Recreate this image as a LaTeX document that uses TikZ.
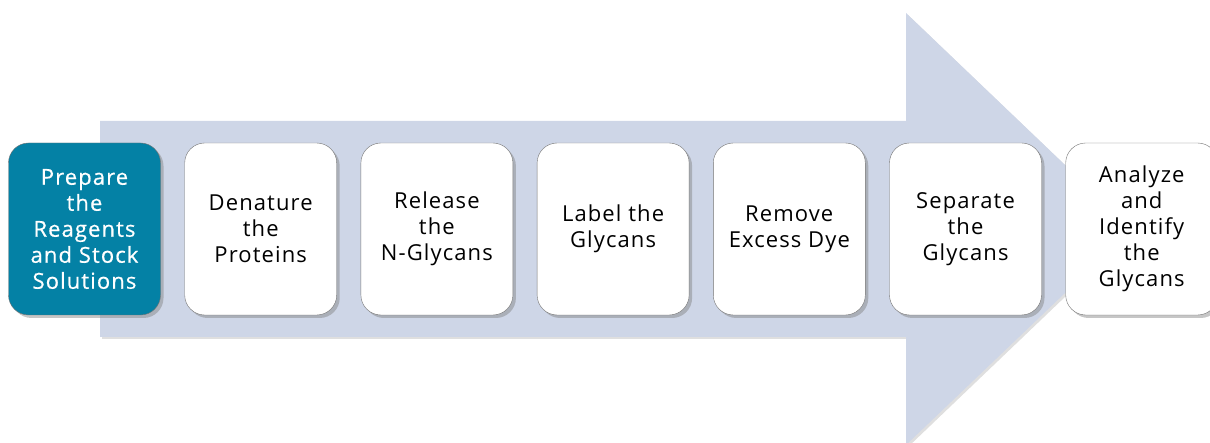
\documentclass[tikz,border=0pt]{standalone}
\usepackage{fontspec}
\setmainfont[LetterSpace=5]{Open Sans}
\newfontfamily\headfont[LetterSpace=5,FakeBold=0.6]{Open Sans}
\usepackage{tikz}
\usetikzlibrary{shapes, arrows.meta, positioning, shadows}
\definecolor{arrowfill}{HTML}{CED6E7}
\definecolor{stepteal}{HTML}{0481A5}
\tikzstyle{stepbox}=[draw=black!55,fill=white,rectangle,rounded corners=20pt,
  minimum width=152pt,minimum height=172pt,align=center,
  drop shadow={shadow xshift=3pt,shadow yshift=-3pt,opacity=.45}]
\tikzstyle{firstbox}=[stepbox,fill=stepteal,text=white,
  font=\headfont\fontsize{22}{26}\selectfont]
\tikzstyle{every node}=[font=\fontsize{22}{26}\selectfont]

\begin{document}
\begin{tikzpicture}[x=1pt,y=-1pt,node distance=176.2pt]
  \useasboundingbox (0,0) rectangle (1210,443);
  % big arrow behind the steps
  \fill[arrowfill,drop shadow={shadow xshift=2pt,shadow yshift=-2pt,opacity=.25}]
    (100,121) -- (906,121) -- (906,13) -- (1132,229) -- (906,445)
    -- (906,337) -- (100,337) -- cycle;
  \node[firstbox] (prep) at (84.5,229) {Prepare\\the\\Reagents\\and Stock\\Solutions};
  \node[stepbox, right of=prep] (denat) {Denature\\the\\Proteins};
  \node[stepbox, right of=denat] (release) {Release\\the\\N-Glycans};
  \node[stepbox, right of=release] (label) {Label the\\Glycans};
  \node[stepbox, right of=label] (remove) {Remove\\Excess Dye};
  \node[stepbox, right of=remove] (separate) {Separate\\the\\Glycans};
  \node[stepbox, right of=separate] (analyze) {Analyze\\and\\Identify\\the\\Glycans};
\end{tikzpicture}
\end{document}
